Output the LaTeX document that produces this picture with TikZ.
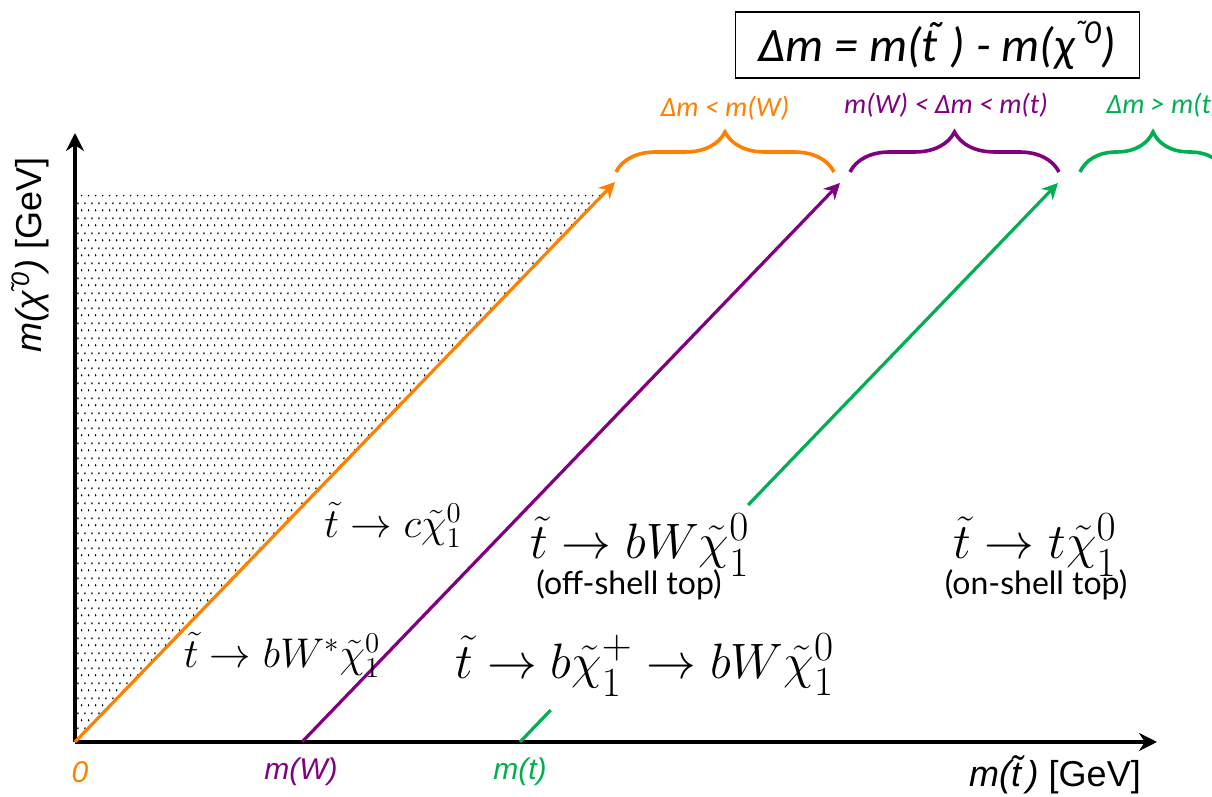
\documentclass[tikz,border=0pt]{standalone}
\usepackage{amsmath,amssymb}
\usepackage[no-math]{fontspec}
\setmainfont{Liberation Sans}
\newfontfamily\calfont{Carlito}
\newfontfamily\optfont{Lato}
\usetikzlibrary{calc,arrows.meta,decorations.pathreplacing,patterns}
\definecolor{corange}{RGB}{255,128,0}
\definecolor{cpurple}{RGB}{128,0,128}
\definecolor{cgreen}{RGB}{0,176,80}
\newcommand{\tilt}{t\kern-0.3em\raisebox{0.14em}{˜}\kern0.12em}
\newcommand{\chiz}{χ\kern-0.04em\textsuperscript{˜\kern-0.12em0}}
\pgfdeclarepatternformonly{sdots}{\pgfpointorigin}{\pgfqpoint{3.65pt}{7.5pt}}{\pgfqpoint{3.65pt}{7.5pt}}{
  \pgfpathellipse{\pgfqpoint{0.9pt}{0.9pt}}{\pgfqpoint{0.42pt}{0pt}}{\pgfqpoint{0pt}{0.7pt}}
  \pgfpathellipse{\pgfqpoint{2.725pt}{4.65pt}}{\pgfqpoint{0.42pt}{0pt}}{\pgfqpoint{0pt}{0.7pt}}
  \pgfusepath{fill}
}
\tikzset{
  axis/.style={line width=2pt, -{Stealth[length=9pt,width=9pt]}},
  cut/.style={line width=1.6pt, -{Stealth[length=8pt,width=8pt]}},
  brc/.style={decorate, decoration={brace, amplitude=20pt}, line width=1.8pt},
  dk/.style={font=\fontsize{21}{24}\selectfont},
  dkbig/.style={font=\fontsize{28}{32}\selectfont},
  shell/.style={font=\optfont\fontsize{16}{18}\selectfont},
  rng/.style={font=\calfont\itshape\fontsize{14}{16}\selectfont},
  tick/.style={font=\itshape\fontsize{15}{17}\selectfont}
}
\begin{document}
\begin{tikzpicture}[x=0.5pt,y=0.5pt]
  \useasboundingbox (0,0) rectangle (1212,797);
  \clip (0,0) rectangle (1212,797);
  % axes and mass lines
  \coordinate (O) at (75,55);
  \coordinate (ytip) at (75,664);
  \coordinate (xtip) at (1157,55);
  \coordinate (mW) at (302,55);
  \coordinate (mt) at (520,55);
  \coordinate (otip) at (615,615);
  \coordinate (ptip) at (840,614);
  \coordinate (gtip) at (1058,614);
  \coordinate (g1) at ($(mt)!0.057!(gtip)$);
  \coordinate (g2) at ($(mt)!0.424!(gtip)$);
  \fill[pattern=sdots] (O) -- (75,602) -- ($(O)!0.977!(otip)$) -- cycle;
  \draw[axis] (O) -- (ytip);
  \draw[axis] (O) -- (xtip);
  \draw[cut, corange] (O) -- (otip);
  \draw[cut, cpurple] (mW) -- (ptip);
  \draw[line width=1.6pt, cgreen] (mt) -- (g1);
  \draw[cut, cgreen] (g2) -- (gtip);
  % braces
  \coordinate (ob1) at (616,625); \coordinate (ob2) at (834,625);
  \coordinate (pb1) at (850,625); \coordinate (pb2) at (1059,625);
  \coordinate (gb1) at (1080,625); \coordinate (gb2) at (1226,625);
  \draw[brc, corange] (ob1) -- (ob2);
  \draw[brc, cpurple] (pb1) -- (pb2);
  \draw[brc, cgreen] (gb1) -- (gb2);
  \node[rng, corange] (ro) at (725,689) {Δm < m(W)};
  \node[rng, cpurple] (rp) at (946,692) {m(W) < Δm < m(t)};
  \node[rng, cgreen] (rg) at (1163,692) {Δm > m(t)};
  \node[draw, line width=0.8pt, minimum width=202pt, minimum height=33pt,
        font=\calfont\itshape\fontsize{24}{28}\selectfont] (dm) at (937.5,752)
        {Δm = m(\tilt) - m(\chiz)};
  % axis labels
  \node[rotate=90, font=\fontsize{18}{20}\selectfont] (ylab) at (30,542)
        {\textit{m(\chiz)} [GeV]};
  \node[font=\fontsize{18}{20}\selectfont] (xlab) at (1055,22) {\textit{m(\tilt)} [GeV]};
  \node[tick, corange] (l0) at (80,25) {0};
  \node[tick, cpurple] (lW) at (301,25) {m(W)};
  \node[tick, cgreen] (lt) at (520,25) {m(t)};
  % decay modes
  \node[dk, font=\fontsize{20.5}{24}\selectfont] (dc) at (393,272) {$\tilde t\to c\tilde\chi_1^0$};
  \node[dk] (dw) at (282,142) {$\tilde t\to bW^*\tilde\chi_1^0$};
  \node[dkbig] (doff) at (640,252) {$\tilde t\to bW\tilde\chi_1^0$};
  \node[shell] (offs) at (629,212) {(off-shell top)};
  \node[dkbig] (dch) at (645,132) {$\tilde t\to b\tilde\chi_1^+\to bW\tilde\chi_1^0$};
  \node[dkbig] (don) at (1035,252) {$\tilde t\to t\tilde\chi_1^0$};
  \node[shell] (ons) at (1036,212) {(on-shell top)};
\end{tikzpicture}
\end{document}
